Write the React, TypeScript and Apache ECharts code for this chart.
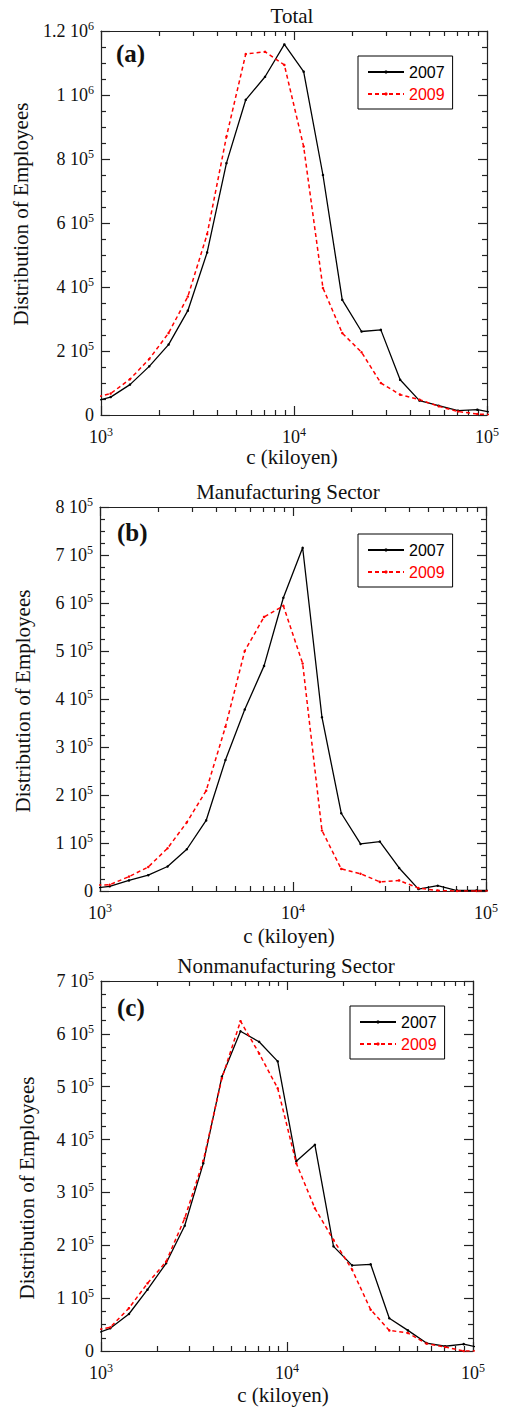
import React, { useEffect, useRef } from "react";
import * as echarts from "echarts";

// Bin centres of c (kiloyen), spaced 0.1 decade apart
const binCenters = [891, 1122, 1413, 1778, 2239, 2818, 3548, 4467, 5623, 7079, 8913, 11220, 14125, 17783, 22387, 28184, 35481, 44668, 56234, 70795, 89125, 112202];

// (a) Total
const totalY2007 = [40000, 56000, 95000, 152000, 220000, 326000, 508000, 787000, 985000, 1057000, 1158000, 1073000, 750000, 360000, 261000, 266000, 110000, 45000, 29000, 13500, 16700, 5000];
const totalY2009 = [52000, 67000, 112000, 175000, 256000, 370000, 565000, 870000, 1128000, 1135000, 1094000, 839000, 397000, 256000, 196000, 100000, 63500, 48000, 27000, 11000, 3000, 0];

// (b) Manufacturing
const mfgY2007 = [5000, 9700, 22000, 33000, 51000, 87000, 147000, 273000, 378000, 469000, 611000, 715000, 362000, 162000, 98000, 103000, 48000, 4000, 11000, 1000, 1000, 1000];
const mfgY2009 = [12000, 13000, 30000, 50000, 89000, 143000, 209000, 342000, 500000, 571000, 594000, 474000, 126000, 46000, 36000, 19000, 22000, 6000, 1000, 0, 0, 0];

// (c) Nonmanufacturing
const nonY2007 = [30000, 43000, 70000, 116000, 166000, 237000, 355000, 519000, 605000, 585000, 548000, 359000, 390000, 198000, 162000, 164000, 62000, 39000, 15000, 9000, 13000, 5000];
const nonY2009 = [38000, 45000, 81000, 128000, 169000, 251000, 360000, 516000, 624000, 563000, 497000, 355000, 270000, 210000, 154000, 78000, 39000, 34000, 14000, 7500, 0, 0];

const seriesNames = ["2007", "2009"];
const titles = ["Total", "Manufacturing Sector", "Nonmanufacturing Sector"];
const tags = ["(a)", "(b)", "(c)"];
const xAxisTitle = "c (kiloyen)";
const yAxisTitle = "Distribution of Employees";

// Axis ranges
const xMin = 1000;
const xMax = 100000;
const xMinorTicks = [2000, 3000, 4000, 5000, 6000, 7000, 8000, 9000, 20000, 30000, 40000, 50000, 60000, 70000, 80000, 90000];
const yMaxes = [1200000, 800000, 700000];
const ySteps = [200000, 100000, 100000];

const dataSets = [
  [totalY2007, totalY2009],
  [mfgY2007, mfgY2009],
  [nonY2007, nonY2009],
];

// layout (pixels)
const layout = [
  { left: 101, top: 31, width: 386, height: 384, titleX: 292, titleY: 16, xNameX: 292, xNameY: 457, yNameX: 21, yNameY: 214, tagX: 116, tagY: 53, legLeft: 358, legTop: 56 },
  { left: 100, top: 507, width: 386, height: 384, titleX: 288, titleY: 492, xNameX: 289, xNameY: 936, yNameX: 23, yNameY: 701, tagX: 117, tagY: 532, legLeft: 358, legTop: 534 },
  { left: 101, top: 981, width: 372, height: 370, titleX: 286, titleY: 966, xNameX: 283, xNameY: 1395, yNameX: 27, yNameY: 1188, tagX: 117, tagY: 1007, legLeft: 350, legTop: 1006 },
];

const SERIF = "'Liberation Serif', 'Times New Roman', serif";
const SANS = "'Liberation Sans', Arial, sans-serif";
const FRAME = "#222";
const TXT = "#111";

const rich = {
  b: { fontFamily: SERIF, fontSize: 18, lineHeight: 22, color: TXT },
  s: { fontFamily: SERIF, fontSize: 12, lineHeight: 10, verticalAlign: "top", color: TXT },
};

const yFmt = (v: number) => {
  if (v === 0) return "{b|0}";
  const e = Math.floor(Math.log10(v) + 1e-9);
  const m = Math.round((v / Math.pow(10, e)) * 100) / 100;
  return `{b|${m} 10}{s|${e}}`;
};
const xFmt = (v: number) => `{b|10}{s|${Math.round(v)}}`;

export default function App() {
  const ref = useRef<HTMLDivElement>(null);
  useEffect(() => {
    document.body.style.margin = "0";
    if (!ref.current) return;
    const chart = echarts.init(ref.current, undefined, { renderer: "svg" });
    const lineStyle = { color: FRAME, width: 1.2 };
    const lx0 = Math.log10(xMin);
    const lx1 = Math.log10(xMax);
    const minorLog = xMinorTicks.map((t) => Math.log10(t));

    const xAxes: any[] = [];
    const yAxes: any[] = [];
    const series: any[] = [];
    const legends: any[] = [];
    const graphics: any[] = [];

    layout.forEach((L, i) => {
      const baseX = { type: "value", gridIndex: i, min: lx0, max: lx1, interval: 1, splitLine: { show: false } };
      xAxes.push({
        ...baseX, position: "bottom",
        axisLine: { show: true, onZero: false, lineStyle },
        axisTick: { show: true, inside: true, length: 9, lineStyle },
        axisLabel: { show: true, margin: 11, formatter: xFmt, rich },
      });
      xAxes.push({
        ...baseX, position: "top",
        axisLine: { show: true, onZero: false, lineStyle },
        axisTick: { show: true, inside: true, length: 9, lineStyle },
        axisLabel: { show: false },
      });
      ["bottom", "top"].forEach((pos) => {
        xAxes.push({
          ...baseX, position: pos,
          axisLine: { show: false, onZero: false },
          axisTick: { show: true, inside: true, length: 5, lineStyle, customValues: minorLog },
          axisLabel: { show: false },
        });
      });
      ["left", "right"].forEach((pos) => {
        yAxes.push({
          type: "value", gridIndex: i, position: pos, min: 0, max: yMaxes[i], interval: ySteps[i],
          splitLine: { show: false },
          axisLine: { show: true, onZero: false, lineStyle },
          axisTick: { show: true, inside: true, length: 9, lineStyle },
          minorTick: { show: true, splitNumber: 4, length: 5, lineStyle },
          axisLabel: pos === "left" ? { show: true, margin: 7, formatter: yFmt, rich } : { show: false },
        });
      });
      const [d07, d09] = dataSets[i];
      series.push({
        type: "line", name: seriesNames[0], xAxisIndex: 4 * i, yAxisIndex: 2 * i,
        data: binCenters.map((c, k) => [Math.log10(c), d07[k]]),
        symbol: "circle", symbolSize: 2.5, showSymbol: true, showAllSymbol: true, clip: true,
        lineStyle: { color: "#000", width: 1.3 }, itemStyle: { color: "#000" },
      });
      series.push({
        type: "line", name: seriesNames[1], xAxisIndex: 4 * i, yAxisIndex: 2 * i,
        data: binCenters.map((c, k) => [Math.log10(c), d09[k]]),
        symbol: "circle", symbolSize: 2.5, showSymbol: true, showAllSymbol: true, clip: true,
        lineStyle: { color: "#ff0000", width: 1.5, type: [4, 3] }, itemStyle: { color: "#ff0000" },
      });
      legends.push({
        orient: "vertical", left: L.legLeft, top: L.legTop,
        borderColor: "#000", borderWidth: 1, borderRadius: 0,
        padding: [8, 8, 7, 9], itemGap: 6, itemWidth: 36, itemHeight: 4,
        selectedMode: false,
        textStyle: { fontFamily: SANS, fontSize: 16 },
        data: [
          { name: seriesNames[0], textStyle: { color: "#000" } },
          { name: seriesNames[1], textStyle: { color: "#ff0000" } },
        ],
      });
      graphics.push({
        type: "text", x: L.titleX, y: L.titleY, silent: true,
        style: { text: titles[i], fontFamily: SERIF, fontSize: 21, fill: TXT, align: "center", verticalAlign: "middle" },
      });
      graphics.push({
        type: "text", x: L.xNameX, y: L.xNameY, silent: true,
        style: { text: xAxisTitle, fontFamily: SERIF, fontSize: 21, fill: TXT, align: "center", verticalAlign: "middle" },
      });
      graphics.push({
        type: "text", x: L.yNameX, y: L.yNameY, rotation: Math.PI / 2, silent: true,
        style: { text: yAxisTitle, fontFamily: SERIF, fontSize: 21, fill: TXT, align: "center", verticalAlign: "middle" },
      });
      graphics.push({
        type: "text", x: L.tagX, y: L.tagY, silent: true,
        style: { text: tags[i], fontFamily: SERIF, fontSize: 25, fontWeight: "bold", fill: TXT, align: "left", verticalAlign: "middle" },
      });
    });

    chart.setOption({
      animation: false,
      backgroundColor: "#fff",
      grid: layout.map((L) => ({ left: L.left, top: L.top, width: L.width, height: L.height, containLabel: false })),
      xAxis: xAxes,
      yAxis: yAxes,
      legend: legends,
      series,
      graphic: graphics,
    });
    return () => chart.dispose();
  }, []);
  return <div ref={ref} style={{ width: 505, height: 1408 }} />;
}
